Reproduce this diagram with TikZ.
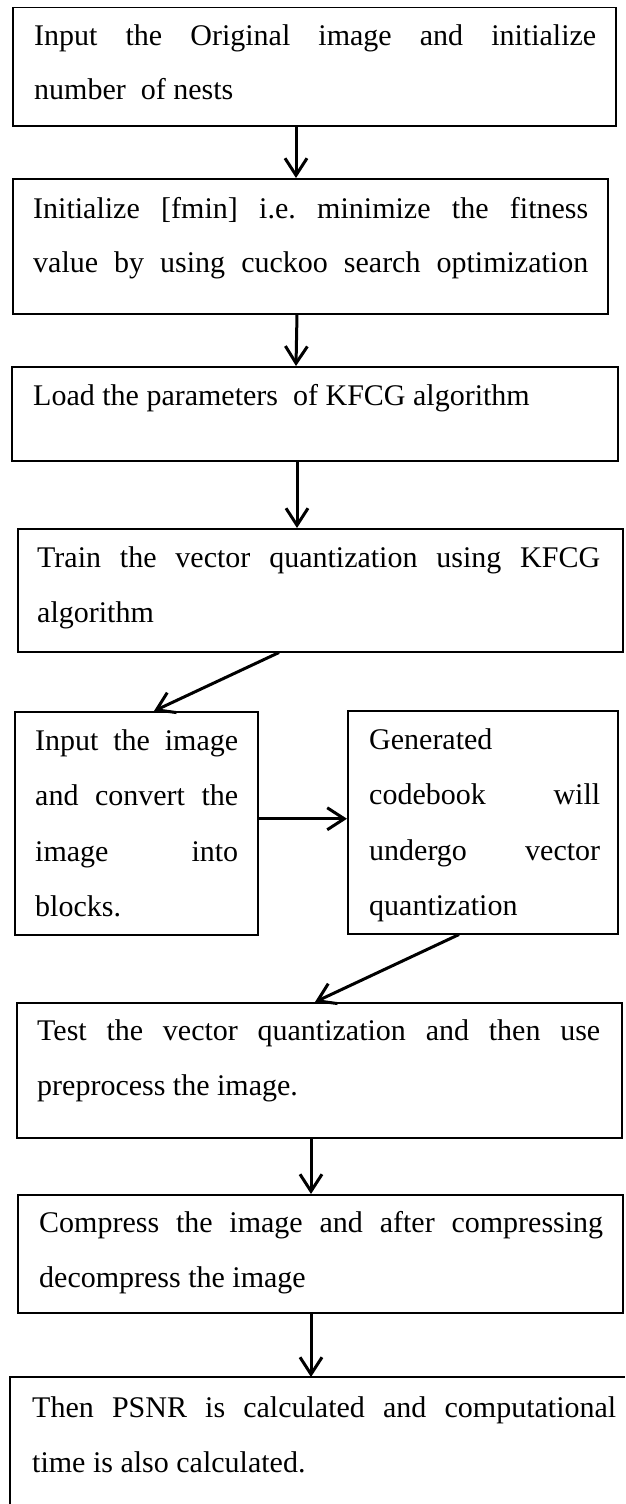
\documentclass[tikz,border=0pt]{standalone}
\usepackage{fontspec}
\setmainfont{Liberation Serif}
\usetikzlibrary{arrows.meta}
\hbadness=10000
\tolerance=10000
\frenchspacing
\begin{document}
\begin{tikzpicture}[x=1pt, y=-1pt,
  box/.style={draw, line width=1.5pt, rectangle, inner sep=0pt, anchor=north west},
  txt/.style={inner sep=0pt, anchor=base west, align=justify, font=\fontsize{30}{55}\selectfont},
  arr/.style={line width=3pt, -{Straight Barb[length=17pt,width=22pt]}}]
\useasboundingbox (0,0) rectangle (625,1504);

% process boxes and their texts
\node[box, minimum width=603, minimum height=118] (b1) at (12,7) {};
\node[txt, text width=562pt, font=\fontsize{30}{54}\selectfont] (t1) at (34,46)
  {Input the Original image and initialize\linebreak number\ \ of nests};

\node[box, minimum width=595, minimum height=135] (b2) at (12,178) {};
\node[txt, text width=555pt, font=\fontsize{30}{54}\selectfont] (t2) at (33,218)
  {Initialize [fmin] i.e. minimize the fitness\linebreak
   \makebox[\linewidth][s]{value by using cuckoo search optimization}};

\node[box, minimum width=606, minimum height=94] (b3) at (11,366) {};
\node[txt, text width=560pt] (t3) at (33,405)
  {Load the parameters\ \ of KFCG algorithm};

\node[box, minimum width=605, minimum height=123] (b4) at (17,528) {};
\node[txt, text width=563pt] (t4) at (37,567)
  {Train the vector quantization using KFCG\linebreak algorithm};

\node[box, minimum width=243, minimum height=223] (b5) at (14,711) {};
\node[txt, text width=203pt, font=\fontsize{30}{55.5}\selectfont] (t5) at (35,750)
  {Input the image\linebreak and convert the\linebreak image into\linebreak blocks.};

\node[box, minimum width=270, minimum height=223] (b6) at (347,710) {};
\node[txt, text width=231pt, font=\fontsize{30}{55.5}\selectfont] (t6) at (369,749)
  {Generated\\ codebook will\linebreak undergo vector\linebreak quantization};

\node[box, minimum width=605, minimum height=135] (b7) at (16,1002) {};
\node[txt, text width=563pt] (t7) at (37,1040)
  {Test the vector quantization and then use\linebreak preprocess the image.};

\node[box, minimum width=605, minimum height=118] (b8) at (17,1194) {};
\node[txt, text width=564pt] (t8) at (39,1232)
  {Compress the image and after compressing\linebreak decompress the image};

% last box runs off the page on the right and bottom
\node[inner sep=0pt, minimum width=615, minimum height=127, anchor=north west] (b9) at (10,1377) {};
\draw[line width=1.5pt] (b9.south west) -- (b9.north west) -- (b9.north east);
\node[txt, text width=584pt] (t9) at (32,1417)
  {Then PSNR is calculated and computational\linebreak time is also calculated.};

% connectors
\draw[arr] ([xshift=284]b1.south west) -- ([xshift=284]b2.north west);
\draw[arr] ([xshift=285]b2.south west) -- ([xshift=285]b3.north west);
\draw[arr] ([xshift=286]b3.south west) -- ([xshift=280]b4.north west);
\draw[arr] ([xshift=262]b4.south west) -- ([xshift=140]b5.north west);
\draw[arr] ([yshift=4.5]b5.east) -- ([yshift=4.5]b5.east -| b6.west);
\draw[arr] ([xshift=112]b6.south west) -- ([xshift=299]b7.north west);
\draw[arr] ([xshift=295]b7.south west) -- ([xshift=294]b8.north west);
\draw[arr] ([xshift=294]b8.south west) -- ([xshift=294]b8.south west |- b9.north);
\end{tikzpicture}
\end{document}
